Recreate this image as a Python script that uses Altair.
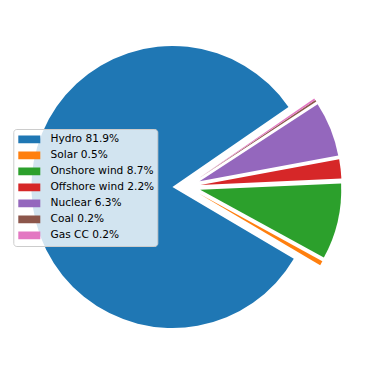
import altair as alt
import pandas as pd

sources = ["Hydro", "Solar", "Onshore wind", "Offshore wind", "Nuclear", "Coal", "Gas CC"]
shares = [81.9, 0.5, 8.7, 2.2, 6.3, 0.2, 0.2]
colors = ["#1f77b4", "#ff7f0e", "#2ca02c", "#d62728", "#9467bd", "#8c564b", "#e377c2"]

labels = [f"{s} {v:.1f}%" for s, v in zip(sources, shares)]
df = pd.DataFrame({"order": list(range(len(sources))), "source": sources,
                   "share": shares, "label": labels})

START = 34.6      # start angle, degrees counter-clockwise from 3 o'clock
EXPLODE = 0.1     # fraction of radius each wedge is pushed out
R = 141           # pie radius in px
W = 357
half = (W / 2) / R

base = (
    alt.Chart(df)
    .transform_joinaggregate(total="sum(share)")
    .transform_window(cum="sum(share)", sort=[alt.SortField("order")], frame=[None, 0])
    .transform_calculate(a0=f"{START} + (datum.cum - datum.share) / datum.total * 360")
    .transform_calculate(a1=f"{START} + datum.cum / datum.total * 360")
    .transform_calculate(t0="PI / 2 - datum.a1 * PI / 180")
    .transform_calculate(t1="PI / 2 - datum.a0 * PI / 180")
    .transform_calculate(mid="(datum.a0 + datum.a1) / 2 * PI / 180")
    .transform_calculate(cx=f"{EXPLODE} * cos(datum.mid)")
    .transform_calculate(cy=f"{EXPLODE} * sin(datum.mid)")
)

chart = (
    base.mark_arc(radius=R)
    .encode(
        x=alt.X("cx:Q", scale=alt.Scale(domain=[-half, half], nice=False, zero=False), axis=None),
        y=alt.Y("cy:Q", scale=alt.Scale(domain=[-half, half], nice=False, zero=False), axis=None),
        theta=alt.Theta("t0:Q", scale=None, stack=None),
        theta2=alt.Theta2("t1:Q"),
        color=alt.Color(
            "label:N",
            scale=alt.Scale(domain=labels, range=colors),
            legend=alt.Legend(
                title=None,
                orient="none",
                legendX=5.3,
                legendY=121,
                fillColor="rgba(255,255,255,0.8)",
                strokeColor="#cccccc",
                cornerRadius=3,
                padding=2.6,
                symbolType="M-1,-0.35L1,-0.35L1,0.35L-1,0.35Z",
                symbolSize=484,
                symbolStrokeWidth=0,
                symbolOpacity=1,
                symbolOffset=2.4,
                labelFont="DejaVu Sans",
                labelFontSize=10.6,
                labelColor="black",
                labelOffset=10.2,
                clipHeight=15.6,
                rowPadding=0,
                zindex=1,
            ),
        ),
    )
    .properties(width=W, height=W, autosize=alt.AutoSizeParams(type="none"), padding=0)
    .configure_view(stroke=None)
)

chart.save("out.html", embed_options={"renderer": "svg", "actions": False})
